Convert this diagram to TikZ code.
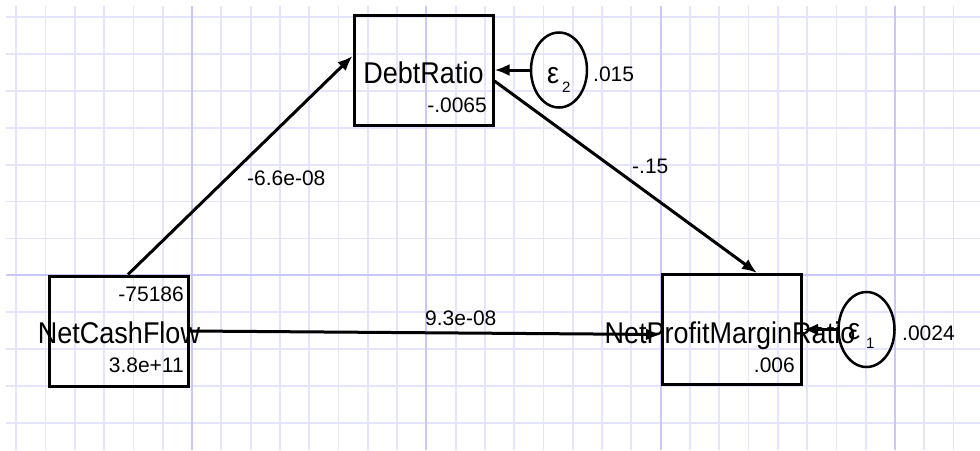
\documentclass[tikz,border=0pt]{standalone}
\usepackage{fontspec}
\setmainfont{Liberation Sans}
\newfontfamily\bigfont[FakeStretch=0.9]{Liberation Sans}
\usetikzlibrary{arrows.meta,shapes.geometric}
\definecolor{gridminor}{RGB}{228,228,255}
\definecolor{gridmajor}{RGB}{200,200,255}
\begin{document}
\begin{tikzpicture}[x=1pt,y=-1pt,
  varbox/.style={draw,line width=3pt,minimum width=139pt,minimum height=110pt,inner sep=0pt},
  errell/.style={draw,ellipse,line width=2.5pt,minimum width=56pt,minimum height=75pt,inner sep=0pt},
  bigtxt/.style={font=\bigfont\fontsize{30}{30}\selectfont,inner sep=0pt},
  smalltxt/.style={font=\fontsize{21}{21}\selectfont,inner sep=0pt},
  subtxt/.style={font=\fontsize{15}{15}\selectfont,inner sep=0pt},
  conn/.style={line width=3pt,-{Latex[length=15pt,width=12pt]}},
  minorline/.style={draw=gridminor,line width=1.8pt},
  majorline/.style={draw=gridmajor,line width=1.8pt}]
\useasboundingbox[fill=white] (0,0) rectangle (980,450);
% grid
\foreach \k in {0,...,32} {
  \pgfmathsetmacro\xx{16.3+29.29*\k}
  \draw[minorline] (\xx,6) -- (\xx,450);
}
\foreach \k in {0,...,11} {
  \pgfmathsetmacro\yy{17+36.9*\k}
  \draw[minorline] (6,\yy) -- (980,\yy);
}
\foreach \k in {6,14,22,30} {
  \pgfmathsetmacro\xx{16.3+29.29*\k}
  \draw[majorline] (\xx,6) -- (\xx,450);
}
\draw[majorline] (6,275.3) -- (980,275.3);
% texts
\node[bigtxt,anchor=base] (tdr) at (423.5,83) {DebtRatio};
\node[smalltxt,anchor=base east] (mdr) at (487,112) {-.0065};
\node[bigtxt,anchor=base] (tncf) at (119,343) {NetCashFlow};
\node[smalltxt,anchor=base east] (mncf) at (184,301) {-75186};
\node[smalltxt,anchor=base east] (vncf) at (184,372) {3.8e+11};
\node[bigtxt,anchor=base] (tnpm) at (730,343) {NetProfitMarginRatio};
\node[smalltxt,anchor=base east] (mnpm) at (795,372) {.006};
\node[smalltxt,anchor=base west] (ve2) at (593,81) {.015};
\node[smalltxt,anchor=base west] (ve1) at (902,340) {.0024};
\node[bigtxt,anchor=base west] (eps2) at (547,83) {ε};
\node[subtxt,anchor=base west] (sub2) at (562,92) {2};
\node[bigtxt,anchor=base west] (eps1) at (848,339) {ε};
\node[subtxt,anchor=base west] (sub1) at (866,348) {1};
% boxes
\node[varbox] (dr) at (423.5,70) {};
\node[varbox] (ncf) at (119,331) {};
\node[varbox] (npm) at (732,329.5) {};
\node[errell] (e2) at (559,70) {};
\node[errell] (e1) at (866.5,329.5) {};
% connectors
\draw[conn] ([xshift=9pt]ncf.north) -- ([yshift=14pt]dr.west);
\node[smalltxt,anchor=base west] (l1) at (247,185) {-6.6e-08};
\draw[conn] ([yshift=-11pt]dr.east) -- ([xshift=25pt]npm.north);
\node[smalltxt,anchor=base west] (l2) at (632,173) {-.15};
\draw[conn] ([yshift=0pt]ncf.east) -- ([yshift=-5pt]npm.west);
\node[smalltxt,anchor=base west] (l3) at (425,325) {9.3e-08};
\draw[conn] (e2.west) -- (e2.west -| dr.east);
\draw[conn] (e1.west) -- (e1.west -| npm.east);
\end{tikzpicture}
\end{document}
